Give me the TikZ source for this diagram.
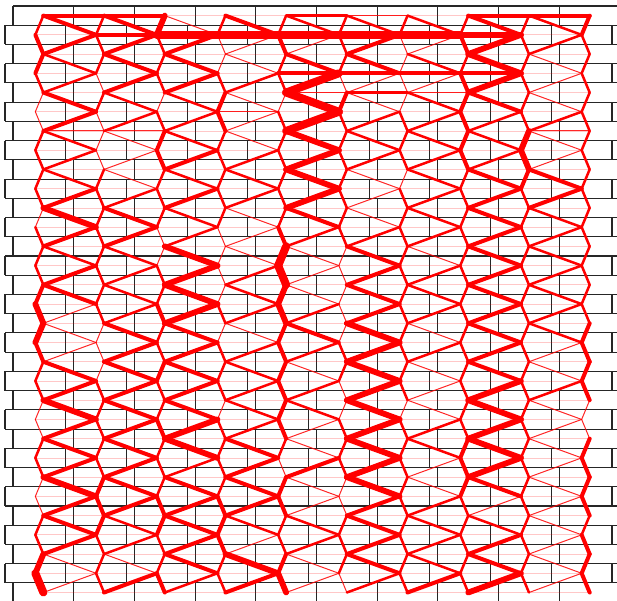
\documentclass[tikz,border=0pt]{standalone}
\begin{document}
\tikzset{
  gridline/.style={draw=black!85, line width=1.1pt},
  w0/.style={draw=red, draw opacity=0.22, line width=0.8pt, line cap=round},
  w1/.style={draw=red, draw opacity=0.85, line width=1.0pt, line cap=round},
  w2/.style={draw=red, line width=2.5pt, line cap=round},
  w3/.style={draw=red, line width=4.0pt, line cap=round},
  w4/.style={draw=red, line width=5.8pt, line cap=round},
  w5/.style={draw=red, line width=8.0pt, line cap=round},
}
\newcommand\mybandx[2]{%
  \foreach \w [count=\i from 0] in {#2} {%
    \pgfmathtruncatemacro\j{\i+1}%
    \pgfmathtruncatemacro\kk{#1+1}%
    \ifodd\i
      \draw[w\w] (n-\i-\kk) -- (n-\j-#1);
    \else
      \draw[w\w] (n-\i-#1) -- (n-\j-\kk);
    \fi
  }}
\newcommand\mycolx[2]{%
  \foreach \w [count=\i from 0] in {#2} {%
    \pgfmathtruncatemacro\j{\i+1}%
    \draw[w\w] (n-\i-#1) -- (n-\j-#1);
  }}
\newcommand\myhrowx[2]{%
  \foreach \w [count=\c from 0] in {#2} {%
    \ifnum\w>0
      \pgfmathtruncatemacro\d{\c+1}%
      \draw[w\w] (n-#1-\c) -- (n-#1-\d);
    \fi
  }}
\begin{tikzpicture}[x=1pt,y=-1pt]
\useasboundingbox (0,0) rectangle (617,600);
\clip (0,0) rectangle (617,600);
% brick grid
\foreach \k in {0,...,30} {
  \pgfmathsetmacro\yt{6+19.23*\k}
  \pgfmathsetmacro\yb{6+19.23*(\k+1)}
  \ifnum\k=0
    \draw[gridline] (13,\yt) -- (617,\yt);
  \else
    \draw[gridline] (5,\yt) -- (617,\yt);
  \fi
  \pgfmathsetmacro\xs{ifthenelse(mod(\k,2)==0,13,5)}
  \foreach \jj in {0,...,10} {
    \pgfmathsetmacro\xv{\xs+60.7*\jj}
    \draw[gridline] (\xv,\yt) -- (\xv,\yb);
  }
}
% nodes at brick centres
\foreach \r in {0,...,30} {
  \foreach \c in {0,...,9} {
    \pgfmathsetmacro\xx{43.35+60.7*\c-8*mod(\r,2)}
    \pgfmathsetmacro\yy{15.6+19.23*\r}
    \coordinate (n-\r-\c) at (\xx,\yy);
  }
}
% faint horizontal links
\foreach \r in {0,...,30} {
  \foreach \c in {0,...,8} {
    \pgfmathtruncatemacro\d{\c+1}
    \draw[w0] (n-\r-\c) -- (n-\r-\d);
  }
}
% horizontal links with weight
\myhrowx{0}{3,3,0,0,2,1,0,3,3}
\myhrowx{1}{0,3,5,5,5,5,5,4,0}
\myhrowx{3}{0,0,0,0,3,3,3,3,0}
\myhrowx{4}{0,0,0,0,1,2,1,0,0}
\myhrowx{5}{0,0,0,1,0,0,0,0,0}
\myhrowx{6}{1,1,0,0,0,0,0,0,1}
% columns (chains)
\mycolx{0}{2,3,3,2,1,1,2,2,2,2,1,2,2,2,3,4,4,3,2,2,1,1,2,2,1,1,2,2,4,5}
\mycolx{1}{2,2,2,1,2,1,1,1,2,2,2,2,2,2,2,2,1,1,1,2,2,2,2,2,3,3,3,2,2,2}
\mycolx{2}{4,2,2,2,1,2,3,3,2,2,2,1,1,2,2,3,2,2,3,2,2,3,2,2,2,3,3,2,2,3}
\mycolx{3}{2,1,1,2,3,3,2,2,2,2,2,1,1,1,1,2,1,2,2,2,1,2,2,2,2,3,3,3,2,2}
\mycolx{4}{2,3,2,2,1,2,2,2,2,2,2,3,5,5,4,4,3,3,3,3,3,3,2,1,3,3,2,2,3,4}
\mycolx{5}{2,2,2,1,3,2,2,2,2,2,2,2,1,1,1,1,1,2,2,1,1,2,2,2,1,1,2,2,2,1}
\mycolx{6}{2,1,1,1,1,2,2,2,1,2,2,2,2,2,2,2,2,2,2,2,1,2,2,2,2,2,2,2,2,2}
\mycolx{7}{2,3,2,3,3,3,3,3,2,2,2,2,2,2,2,2,2,2,2,2,2,2,3,3,3,2,2,2,2,2}
\mycolx{8}{2,2,2,2,2,2,4,4,3,2,2,2,2,2,2,2,2,2,2,2,2,2,2,2,2,2,2,2,2,2}
\mycolx{9}{3,2,2,2,2,2,2,2,2,2,2,2,2,2,2,2,3,3,3,3,1,1,3,3,3,3,2,3,3,3}
% zigzag bands
\mybandx{0}{3,3,2,2,3,3,2,2,2,3,4,3,2,3,3,1,1,1,3,3,4,3,3,3,4,3,3,3,1,1}
\mybandx{1}{3,3,3,3,2,2,1,1,1,2,3,3,2,2,2,2,3,3,3,3,3,3,3,3,3,3,2,2,1,3}
\mybandx{2}{1,3,3,3,2,2,2,3,2,3,2,2,4,4,4,4,3,3,3,3,3,4,4,2,3,3,3,3,3,2}
\mybandx{3}{3,1,1,2,1,1,1,2,2,2,1,1,1,2,2,2,1,2,2,2,2,2,3,3,3,3,2,1,4,3}
\mybandx{4}{2,1,3,5,5,5,4,4,4,4,3,2,1,1,1,2,3,2,1,2,2,1,1,3,1,1,2,2,1,1}
\mybandx{5}{2,3,3,1,1,2,2,2,1,1,1,2,3,3,3,3,4,4,4,4,4,4,4,4,4,3,3,3,3,2}
\mybandx{6}{2,1,2,1,2,2,2,2,2,2,2,2,1,2,2,2,1,2,1,1,1,2,2,1,1,2,2,2,2,3}
\mybandx{7}{3,4,4,4,3,2,2,2,3,3,3,3,3,3,3,3,3,3,3,4,4,4,4,4,3,1,2,3,3,4}
\mybandx{8}{2,2,1,1,1,2,1,1,3,3,2,2,2,2,2,2,2,1,1,2,1,1,1,1,1,1,1,1,1,1}
\end{tikzpicture}
\end{document}
